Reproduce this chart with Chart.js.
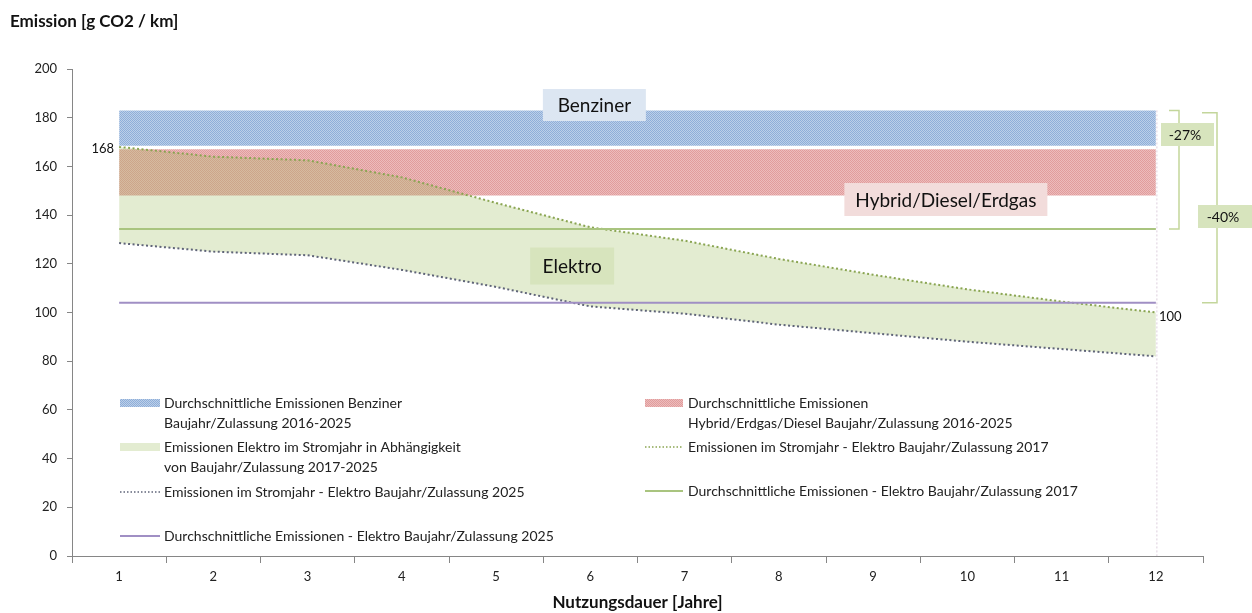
<!DOCTYPE html>
<html>
<head>
<meta charset="utf-8">
<script src="https://cdn.jsdelivr.net/npm/chart.js@4.4.0/dist/chart.umd.min.js"></script>
<style>
  html, body { margin: 0; padding: 0; background: #fff; }
  #wrap { position: relative; width: 1252px; height: 613px; }
</style>
</head>
<body>
<div id="wrap"><canvas id="emissionChart" width="1252" height="613"></canvas></div>
<script>
// Nutzungsdauer in Jahren
const years = ['1', '2', '3', '4', '5', '6', '7', '8', '9', '10', '11', '12'];

// Bänder (g CO2 / km)
const benzinerTop    = [183, 183, 183, 183, 183, 183, 183, 183, 183, 183, 183, 183];
const benzinerBottom = [168.5, 168.5, 168.5, 168.5, 168.5, 168.5, 168.5, 168.5, 168.5, 168.5, 168.5, 168.5];
const hybridTop      = [167, 167, 167, 167, 167, 167, 167, 167, 167, 167, 167, 167];
const hybridBottom   = [148, 148, 148, 148, 148, 148, 148, 148, 148, 148, 148, 148];

// Elektro im Stromjahr
const elektro2017 = [168, 164, 162.5, 155.5, 145, 135, 129.5, 122, 115.5, 109.5, 104.5, 100];
const elektro2025 = [128.5, 125, 123.5, 117.5, 110.5, 102.5, 99.5, 95, 91.5, 88, 85, 82];

// Durchschnitt Elektro
const avgElektro2017 = [134.3, 134.3, 134.3, 134.3, 134.3, 134.3, 134.3, 134.3, 134.3, 134.3, 134.3, 134.3];
const avgElektro2025 = [104, 104, 104, 104, 104, 104, 104, 104, 104, 104, 104, 104];

const FONT = 'Lato, "Open Sans", sans-serif';
const canvas = document.getElementById('emissionChart');
const mainCtx = canvas.getContext('2d');

function makePattern(c1, c2) {
    const p = document.createElement('canvas');
    p.width = 2; p.height = 2;
    const g = p.getContext('2d');
    g.fillStyle = c1;
    g.fillRect(0, 0, 1, 1);
    g.fillRect(1, 1, 1, 1);
    g.fillStyle = c2;
    g.fillRect(1, 0, 1, 1);
    g.fillRect(0, 1, 1, 1);
    return mainCtx.createPattern(p, 'repeat');
}

const bluePattern = makePattern('#8eaed9', '#bccfe8');
const redPattern = makePattern('rgba(205,90,90,0.6)', 'rgba(215,115,115,0.48)');
const greenFill = 'rgba(155,187,89,0.28)';
const dot2017Color = '#8aa552';
const dot2025Color = '#5f6478';
const avg2017Color = '#a9c47f';
const avg2025Color = '#a08fc4';

function band(data, fill, bg, order) {
    return {
        data: data,
        fill: fill,
        backgroundColor: bg,
        borderColor: 'rgba(0,0,0,0)',
        borderWidth: 0,
        pointRadius: 0,
        order: order
    };
}

const legendItems = [
    { col: 0, y: 403, kind: 'benz', lines: ['Durchschnittliche Emissionen Benziner', 'Baujahr/Zulassung 2016-2025'] },
    { col: 1, y: 403, kind: 'hyb', lines: ['Durchschnittliche Emissionen', 'Hybrid/Erdgas/Diesel Baujahr/Zulassung 2016-2025'] },
    { col: 0, y: 447, kind: 'elFill', lines: ['Emissionen Elektro im Stromjahr in Abhängigkeit', 'von Baujahr/Zulassung 2017-2025'] },
    { col: 1, y: 447, kind: 'dot2017', lines: ['Emissionen im Stromjahr - Elektro Baujahr/Zulassung 2017'] },
    { col: 0, y: 492, kind: 'dot2025', lines: ['Emissionen im Stromjahr - Elektro Baujahr/Zulassung 2025'] },
    { col: 1, y: 491, kind: 'avg2017', lines: ['Durchschnittliche Emissionen - Elektro Baujahr/Zulassung 2017'] },
    { col: 0, y: 536, kind: 'avg2025', lines: ['Durchschnittliche Emissionen - Elektro Baujahr/Zulassung 2025'] }
];

function labelBox(ctx, cx, cy, w, h, bg, text, size) {
    ctx.fillStyle = bg;
    ctx.fillRect(cx - w / 2, cy - h / 2, w, h);
    ctx.fillStyle = '#111';
    ctx.font = size + 'px ' + FONT;
    ctx.textAlign = 'center';
    ctx.textBaseline = 'middle';
    ctx.fillText(text, cx, cy + 1);
}

const extrasPlugin = {
    id: 'extras',
    afterDraw(chart) {
        const ctx = chart.ctx;
        const x = chart.scales.x, y = chart.scales.y;
        const ca = chart.chartArea;
        ctx.save();

        // faint vertical edge at year 12
        ctx.strokeStyle = 'rgba(205,185,205,0.7)';
        ctx.lineWidth = 1;
        ctx.setLineDash([2, 2]);
        ctx.beginPath();
        ctx.moveTo(x.getPixelForValue(11) + 1, y.getPixelForValue(183));
        ctx.lineTo(x.getPixelForValue(11) + 1, ca.bottom);
        ctx.stroke();
        ctx.setLineDash([]);

        // Y-Titel
        ctx.fillStyle = '#111';
        ctx.font = 'bold 17px ' + FONT;
        ctx.textAlign = 'left';
        ctx.textBaseline = 'middle';
        ctx.fillText('Emission [g CO2 / km]', 10, 22);

        // Bereichsbeschriftungen
        labelBox(ctx, x.getPixelForValue(5) + 4, y.getPixelForValue(185.2), 103, 32, '#dce6f2', 'Benziner', 19);
        labelBox(ctx, x.getPixelForValue(7) + 167, y.getPixelForValue(146.4), 203, 33, '#f2dcdb', 'Hybrid/Diesel/Erdgas', 19);
        labelBox(ctx, x.getPixelForValue(4) + 76, y.getPixelForValue(119.1), 84, 37, '#d7e4bd', 'Elektro', 19);

        // Datenbeschriftungen 168 / 100
        ctx.fillStyle = '#111';
        ctx.font = '13px ' + FONT;
        ctx.textBaseline = 'middle';
        ctx.textAlign = 'right';
        ctx.fillText(String(elektro2017[0]), x.getPixelForValue(0) - 5, y.getPixelForValue(elektro2017[0]) + 2);
        ctx.textAlign = 'left';
        ctx.fillText(String(elektro2017[11]), x.getPixelForValue(11) + 3, y.getPixelForValue(elektro2017[11]) + 4);

        // Klammern rechts
        const xr = ca.right;
        ctx.strokeStyle = '#c3d69b';
        ctx.lineWidth = 1.5;
        const yTop1 = y.getPixelForValue(183), yBot1 = y.getPixelForValue(avgElektro2017[0]);
        ctx.beginPath();
        ctx.moveTo(xr - 34, yTop1); ctx.lineTo(xr - 24, yTop1);
        ctx.lineTo(xr - 24, yBot1); ctx.lineTo(xr - 34, yBot1);
        ctx.stroke();
        const yTop2 = y.getPixelForValue(182), yBot2 = y.getPixelForValue(avgElektro2025[0]);
        ctx.beginPath();
        ctx.moveTo(xr - 1, yTop2); ctx.lineTo(xr + 14, yTop2);
        ctx.lineTo(xr + 14, yBot2); ctx.lineTo(xr - 1, yBot2);
        ctx.stroke();
        ctx.fillStyle = '#d7e4bd';
        ctx.fillRect(xr - 42, 123, 53, 23);
        ctx.fillRect(xr - 5, 205, chart.width - xr + 5, 23);
        ctx.fillStyle = '#111';
        ctx.font = '14px ' + FONT;
        ctx.textAlign = 'center';
        ctx.fillText('-27%', xr - 18, 135);
        ctx.fillText('-40%', xr + 20, 217);

        // Legende
        const colX = [[120, 160, 164], [645, 683, 688]];
        legendItems.forEach(item => {
            const [sx0, sx1, tx] = colX[item.col];
            const cy = item.y;
            if (item.kind === 'benz' || item.kind === 'hyb' || item.kind === 'elFill') {
                ctx.fillStyle = item.kind === 'benz' ? bluePattern : item.kind === 'hyb' ? redPattern : greenFill;
                ctx.fillRect(sx0, cy - 4, sx1 - sx0, 8);
            } else {
                const dotted = item.kind.startsWith('dot');
                ctx.strokeStyle = { dot2017: dot2017Color, dot2025: dot2025Color, avg2017: avg2017Color, avg2025: avg2025Color }[item.kind];
                ctx.lineWidth = dotted ? 1.5 : 2;
                ctx.setLineDash(dotted ? [1.5, 2] : []);
                ctx.beginPath();
                ctx.moveTo(sx0, cy); ctx.lineTo(sx1, cy);
                ctx.stroke();
                ctx.setLineDash([]);
            }
            ctx.fillStyle = '#222';
            ctx.font = '14px ' + FONT;
            ctx.textAlign = 'left';
            ctx.textBaseline = 'middle';
            item.lines.forEach((t, i) => ctx.fillText(t, tx, cy + i * 20));
        });

        ctx.restore();
    }
};

const chart = new Chart(canvas, {
    type: 'line',
    data: {
        labels: years,
        datasets: [
            band(benzinerTop, '+1', bluePattern, 3),
            band(benzinerBottom, false, 'rgba(0,0,0,0)', 4),
            band(hybridTop, '+1', redPattern, 5),
            band(hybridBottom, false, 'rgba(0,0,0,0)', 6),
            {
                data: elektro2017,
                fill: '+1',
                backgroundColor: greenFill,
                borderColor: dot2017Color,
                borderWidth: 2,
                borderDash: [2, 2.5],
                pointRadius: 0,
                tension: 0,
                order: 1
            },
            {
                data: elektro2025,
                fill: false,
                borderColor: dot2025Color,
                borderWidth: 2,
                borderDash: [2, 2.5],
                pointRadius: 0,
                tension: 0,
                order: 2
            },
            {
                data: avgElektro2017,
                fill: false,
                borderColor: avg2017Color,
                borderWidth: 2,
                pointRadius: 0,
                order: 0
            },
            {
                data: avgElektro2025,
                fill: false,
                borderColor: avg2025Color,
                borderWidth: 2,
                pointRadius: 0,
                order: 0
            }
        ]
    },
    options: {
        responsive: false,
        animation: false,
        devicePixelRatio: 1,
        layout: { padding: { top: 69, right: 49, left: 0, bottom: 0 } },
        plugins: {
            legend: { display: false },
            tooltip: { enabled: false },
            filler: { drawTime: 'beforeDatasetsDraw' }
        },
        scales: {
            x: {
                offset: true,
                grid: { offset: true, drawOnChartArea: false, tickLength: 7, color: '#868686' },
                border: { color: '#868686' },
                ticks: { color: '#222', font: { family: FONT, size: 13 }, padding: 6, maxRotation: 0 },
                title: {
                    display: true,
                    text: 'Nutzungsdauer [Jahre]',
                    color: '#111',
                    font: { family: FONT, size: 17, weight: 'bold' },
                    padding: { top: 0, bottom: 0 }
                },
                afterFit(scale) { scale.height = 57; }
            },
            y: {
                min: 0,
                max: 200,
                ticks: { stepSize: 20, color: '#222', font: { family: FONT, size: 13 }, padding: 10 },
                grid: { drawOnChartArea: false, tickLength: 5, color: '#868686' },
                border: { color: '#868686' },
                afterFit(scale) { scale.width = 72; }
            }
        }
    },
    plugins: [extrasPlugin]
});
</script>
</body>
</html>
